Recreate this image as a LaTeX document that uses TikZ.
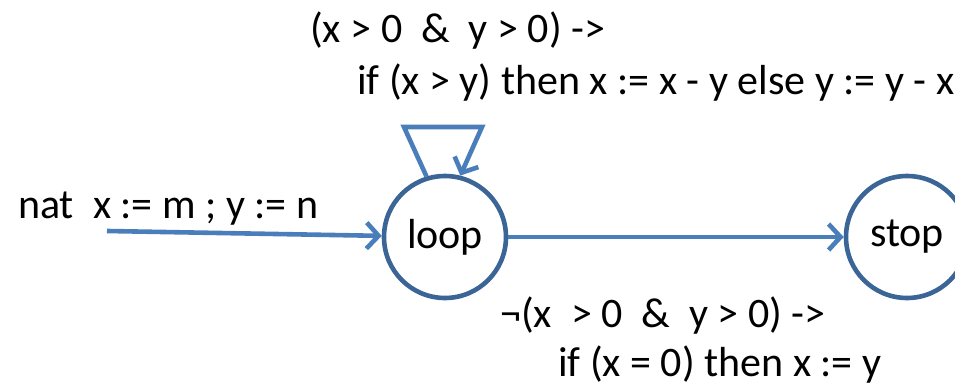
\documentclass[tikz,border=0pt]{standalone}
\usepackage{fontspec}
\setmainfont{Carlito}
\usetikzlibrary{arrows.meta}
\definecolor{circblue}{HTML}{3B6596}
\definecolor{arrblue}{HTML}{4A7EBB}
\begin{document}
\begin{tikzpicture}[x=1pt,y=-1pt,
  every node/.style={font=\fontsize{42}{52}\selectfont, inner sep=0pt},
  statenode/.style={circle, draw=circblue, line width=4.6pt, minimum size=122pt, fill=white},
  edge/.style={draw=arrblue, line width=4.6pt, -{Straight Barb[length=12pt,width=26pt,line width=4.6pt]}},
  lbl/.style={anchor=base west, align=left}]
\useasboundingbox (0,0) rectangle (955,385);
\clip (0,0) rectangle (955,385);
\node[statenode] (loop) at (445,237) {loop};
\node[statenode] (stop) at (907,237) {stop};
\coordinate (start) at (107,231);
\coordinate (lpA) at (404,127);
\coordinate (lpB) at (482,127);
\draw[edge] (start) -- (loop);
\draw[edge] (loop) -- (stop);
\draw[edge] (loop.107) -- (lpA) -- (lpB) -- (loop.76);
\node[lbl] (initlbl) at (18,218) {nat\ \ x := m ; y := n};
\node[lbl] (toplbl1) at (310,43) {(x > 0\ \ \&\ \ y > 0) ->};
\node[lbl] (toplbl2) at (357,95) {if (x > y) then x := x - y else y := y - x};
\node[lbl] (botlbl1) at (500,327) {¬(x\ \ > 0\ \ \&\ \ y > 0) ->};
\node[lbl] (botlbl2) at (558,376) {if (x = 0) then x := y};
\end{tikzpicture}
\end{document}
